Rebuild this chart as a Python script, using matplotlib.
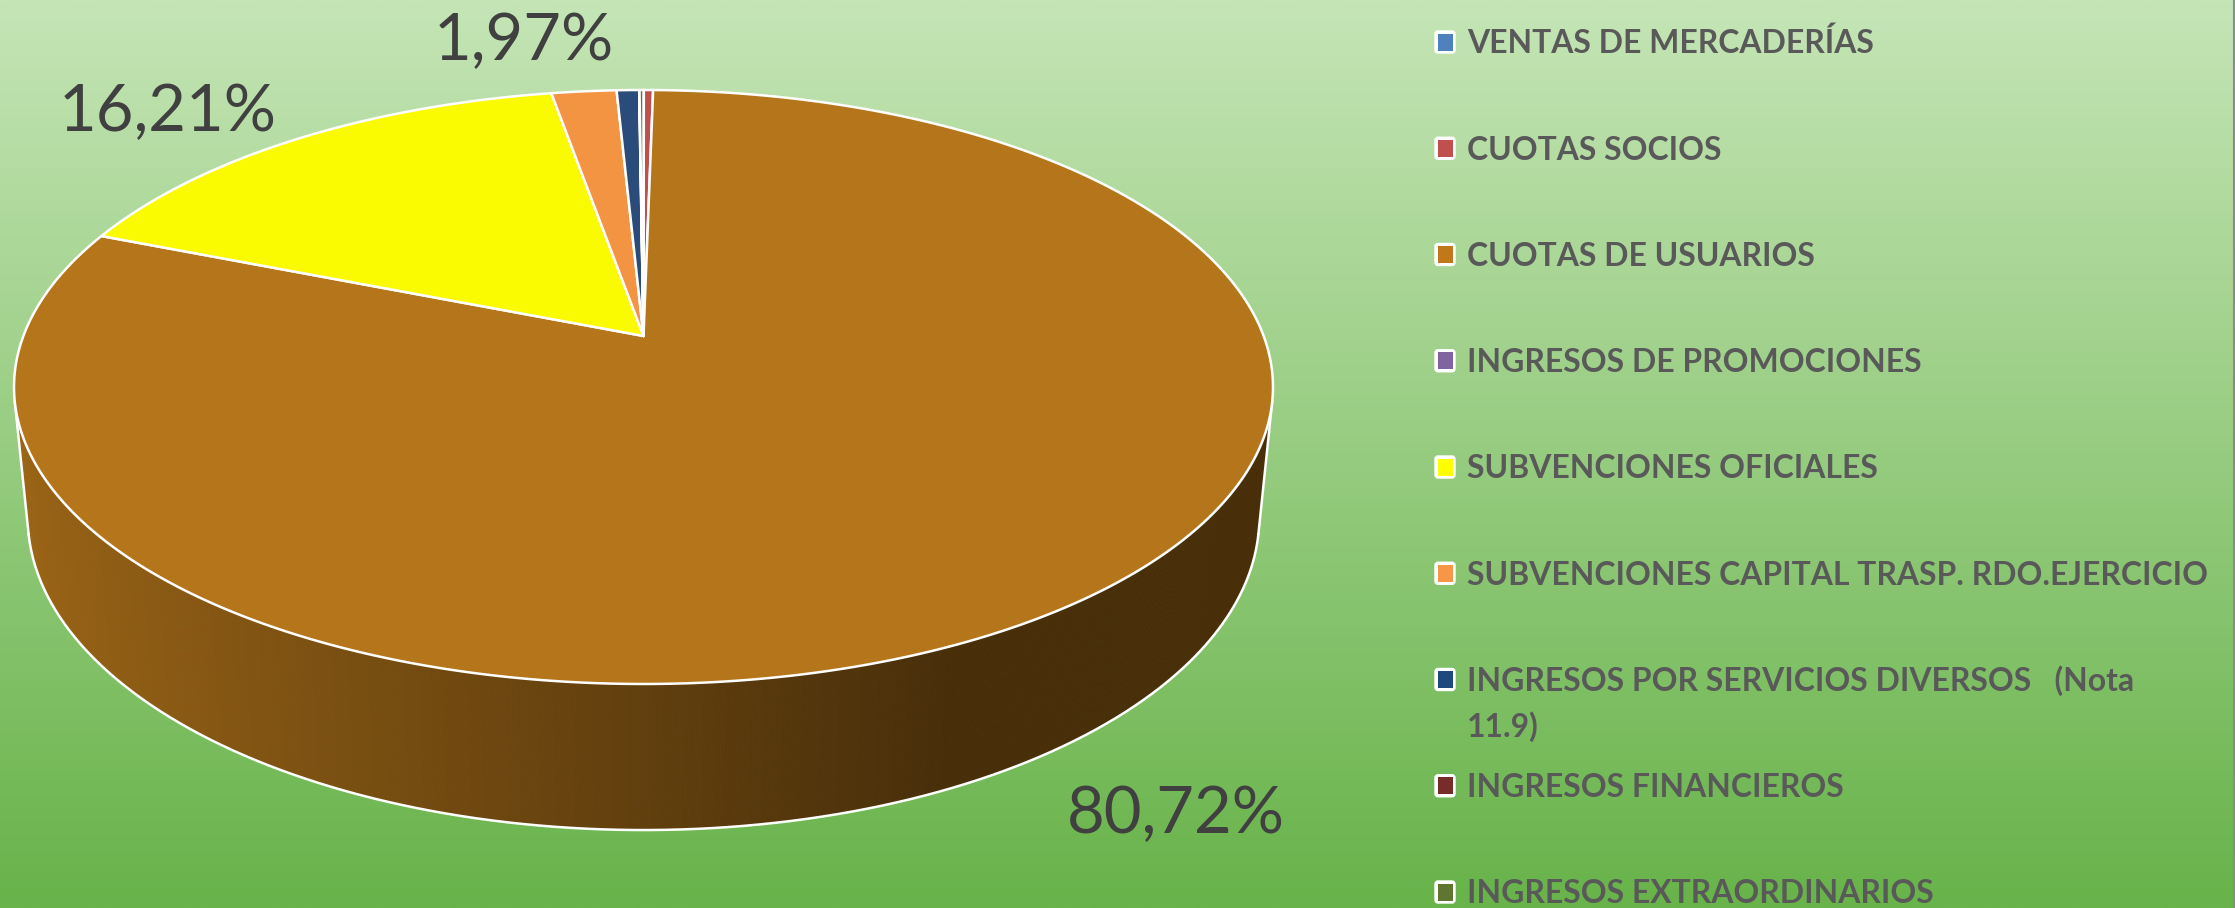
import numpy as np
import matplotlib
matplotlib.use("Agg")
import matplotlib.pyplot as plt
from matplotlib.patches import Polygon, FancyBboxPatch, Rectangle
from matplotlib.collections import PolyCollection

# ---------------- data ----------------
categories = [
    "VENTAS DE MERCADERÍAS",
    "CUOTAS SOCIOS",
    "CUOTAS DE USUARIOS",
    "INGRESOS DE PROMOCIONES",
    "SUBVENCIONES OFICIALES",
    "SUBVENCIONES CAPITAL TRASP. RDO.EJERCICIO",
    "INGRESOS POR SERVICIOS DIVERSOS   (Nota\n11.9)",
    "INGRESOS FINANCIEROS",
    "INGRESOS EXTRAORDINARIOS",
]
values = [0.01, 0.28, 80.72, 0.0, 16.21, 1.97, 0.68, 0.01, 0.12]
pie_colors = ["#4F81BD", "#C0504D", "#B5751A", "#8064A2", "#FAFA00",
              "#F39443", "#294C7A", "#772C2A", "#5F7530"]
legend_colors = ["#4F81BD", "#C0504D", "#C0781A", "#8064A2", "#FFFF00",
                 "#F79646", "#1F497D", "#772C2A", "#5F7530"]
labelled = [2, 4, 5]          # slices that carry a data label

# ---------------- figure ----------------
W, H = 2235, 908
fig = plt.figure(figsize=(W / 100, H / 100), dpi=100)
ax = fig.add_axes([0, 0, 1, 1])
ax.set_xlim(0, W)
ax.set_ylim(H, 0)
ax.axis("off")

# background gradient
top_c = np.array([197, 229, 182]) / 255
bot_c = np.array([104, 179, 74]) / 255
t = np.linspace(0, 1, 256)[:, None]
grad = (top_c[None, :] * (1 - t) + bot_c[None, :] * t)[:, None, :]
ax.imshow(grad, extent=[0, W, H, 0], aspect="auto", zorder=0, interpolation="bilinear")

# ---------------- 3D pie projection ----------------
CX, CY = 643.5, 336.0
F = 3198.0
D = 5.157
PHI = np.arcsin(0.4648)
THICK = 0.2398


def proj(X, Y, Z):
    depth = D - Y * np.sin(PHI) + Z * np.cos(PHI)
    sx = CX + F * X / depth
    sy = CY - F * (Y * np.cos(PHI) + Z * np.sin(PHI)) / depth
    return sx, sy


def hex2rgb(h):
    h = h.lstrip("#")
    return np.array([int(h[i:i + 2], 16) for i in (0, 2, 4)]) / 255


total = sum(values)
angles = np.concatenate([[0], np.cumsum(values)]) / total * 2 * np.pi
vis_a = np.arccos(-1.0 / (D * np.cos(PHI)))
vis_b = 2 * np.pi - vis_a

edge_w = 1.8
for i, v in enumerate(values):
    if v <= 0:
        continue
    t1, t2 = angles[i], angles[i + 1]
    # side (only front-facing part)
    a = max(t1, vis_a)
    b = min(t2, vis_b)
    if b > a:
        n = max(int(np.degrees(b - a) / 0.25), 2)
        th = np.linspace(a, b, n + 1)
        tx, ty = proj(np.sin(th), 0.0, np.cos(th))
        bx, by = proj(np.sin(th), -THICK, np.cos(th))
        base = hex2rgb(pie_colors[i])
        polys, cols = [], []
        for k in range(n):
            polys.append([(tx[k], ty[k]), (tx[k + 1], ty[k + 1]),
                          (bx[k + 1], by[k + 1]), (bx[k], by[k])])
            tm = 0.5 * (th[k] + th[k + 1])
            f = np.clip(0.537 - 0.333 * np.sin(tm), 0.40, 0.88)
            cols.append(np.clip(base * f, 0, 1))
        pc = PolyCollection(polys, facecolors=cols, edgecolors=cols,
                            linewidths=0.6, zorder=2)
        ax.add_collection(pc)
        ax.plot(bx, by, color="white", lw=edge_w, zorder=3, solid_capstyle="round")
        for ang in (a, b):
            if abs(ang - vis_a) < 1e-9 or abs(ang - vis_b) < 1e-9:
                x0, y0 = proj(np.sin(ang), 0.0, np.cos(ang))
                x1, y1 = proj(np.sin(ang), -THICK, np.cos(ang))
                ax.plot([x0, x1], [y0, y1], color="white", lw=edge_w, zorder=3)
    # top face
    n = max(int(np.degrees(t2 - t1) / 0.25), 2)
    th = np.linspace(t1, t2, n + 1)
    px, py = proj(np.sin(th), 0.0, np.cos(th))
    c0 = proj(0.0, 0.0, 0.0)
    pts = np.column_stack([np.r_[c0[0], px], np.r_[c0[1], py]])
    ax.add_patch(Polygon(pts, closed=True, facecolor=pie_colors[i],
                         edgecolor="white", lw=edge_w, joinstyle="round", zorder=4))

# ---------------- fonts ----------------
fam = ["Lato", "DejaVu Sans"]
fig.canvas.draw()
rend = fig.canvas.get_renderer()


def fit_size(text, target_px, weight):
    tt = ax.text(0, 0, text, fontsize=20, fontweight=weight, family=fam)
    w = tt.get_window_extent(rend).width
    tt.remove()
    return 20 * target_px / w


leg_size = fit_size("SUBVENCIONES CAPITAL TRASP. RDO.EJERCICIO", 739, "bold")
lab_size = fit_size("80,72%", 218, "normal")

# ---------------- data labels ----------------
label_pos = {2: (1176, 833), 4: (168, 131), 5: (524, 60)}
for i in labelled:
    txt = f"{values[i]:.2f}%".replace(".", ",")
    x, y = label_pos[i]
    ax.text(x, y, txt, fontsize=lab_size, family=fam, color="#404040",
            ha="center", va="baseline", zorder=6)

# ---------------- legend ----------------
row0, row_step = 42.0, 106.25
cap_px = 0.7165 * leg_size * 100 / 72
for i, name in enumerate(categories):
    yc = row0 + row_step * i
    ax.add_patch(FancyBboxPatch((1435, yc - 11), 20, 22,
                                boxstyle="round,pad=0,rounding_size=3",
                                facecolor="white", edgecolor="white", lw=1, zorder=5))
    ax.add_patch(Rectangle((1437.5, yc - 8.5), 15, 17, facecolor=legend_colors[i],
                           edgecolor="none", zorder=6))
    for k, line in enumerate(name.split("\n")):
        ax.text(1467, yc + cap_px / 2 + 46 * k, line, fontsize=leg_size,
                fontweight="bold", family=fam, color="#595959",
                ha="left", va="baseline", zorder=6)

# right border
ax.plot([W - 1.5, W - 1.5], [0, H], color="#8a8a8a", lw=2.2, zorder=7)

fig.savefig("out.png", dpi=100)
